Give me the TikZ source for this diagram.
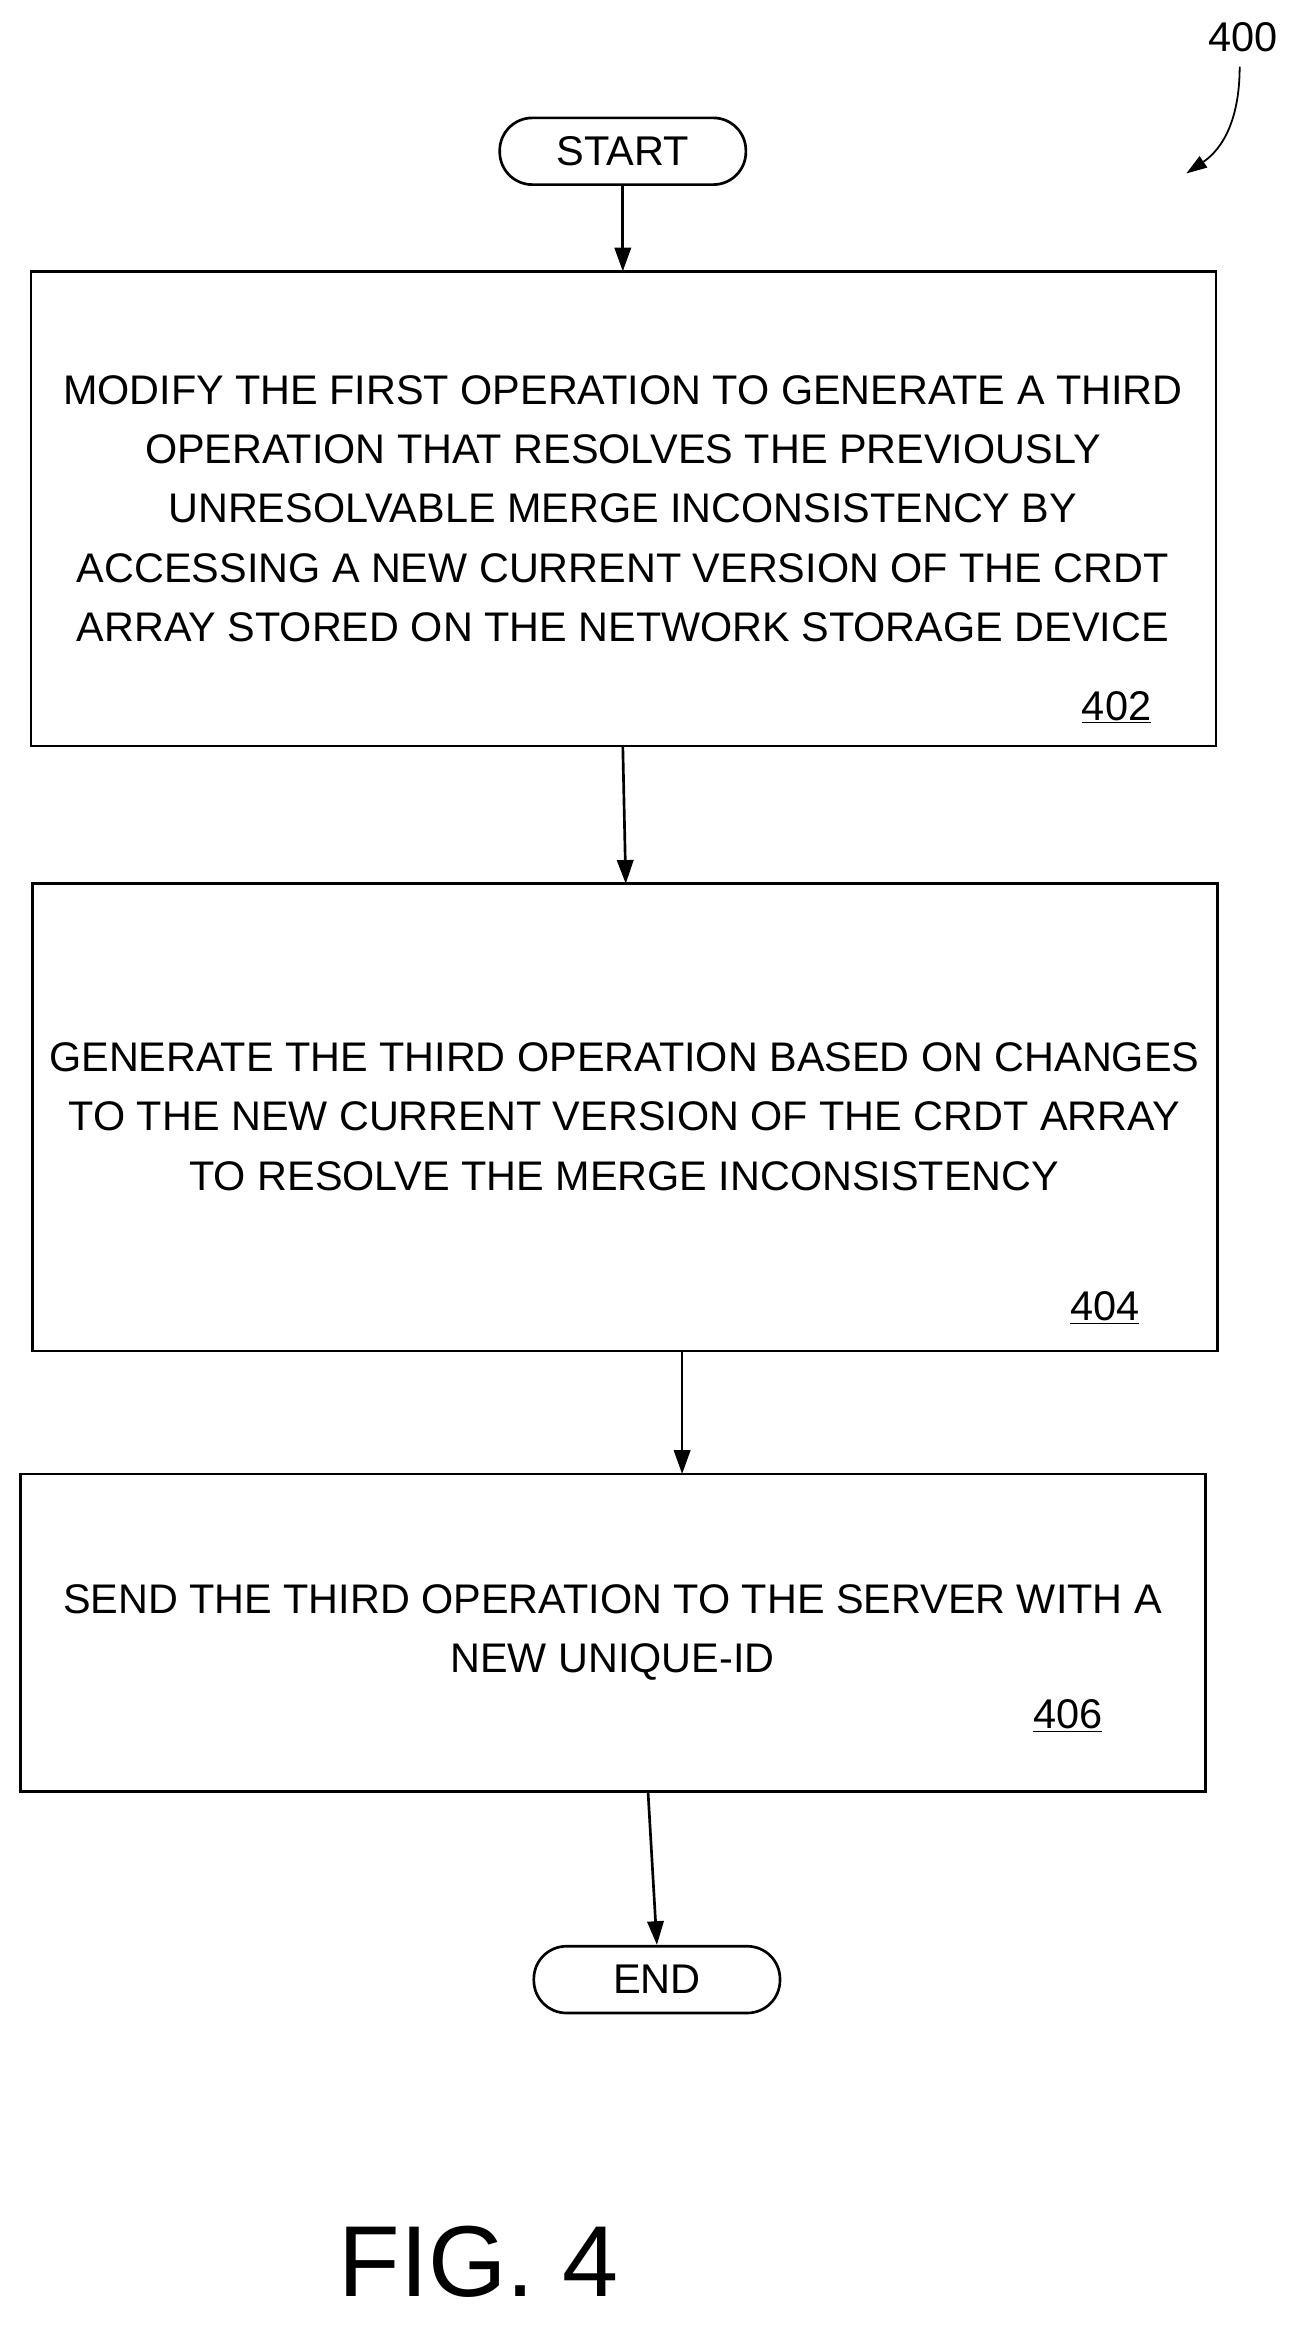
\documentclass[tikz,border=0pt]{standalone}
\usepackage{fontspec}
\setmainfont{Liberation Sans}
\usetikzlibrary{arrows.meta}
\begin{document}
\begin{tikzpicture}[x=1pt,y=-1pt,
  box/.style={draw,line width=1.8pt},
  term/.style={draw,line width=1.8pt,rounded corners=22pt,minimum width=166pt,minimum height=45pt,font=\fontsize{28}{32}\selectfont},
  txt/.style={align=center,font=\fontsize{27.9}{40}\selectfont},
  lbl/.style={font=\fontsize{28}{32}\selectfont},
  arr/.style={line width=1.8pt,-{Triangle[length=16pt,width=11pt]}}]
\useasboundingbox (0,0) rectangle (878,1574);
\node[term] (start) at (420,102) {START};
\draw[box] (21,183) rectangle (820,503);
\coordinate (b1t) at (420,183);
\node[txt] (t1) at (420,343) {MODIFY THE FIRST OPERATION TO GENERATE A THIRD\\OPERATION THAT RESOLVES THE PREVIOUSLY\\UNRESOLVABLE MERGE INCONSISTENCY BY\\ACCESSING A NEW CURRENT VERSION OF THE CRDT\\ARRAY STORED ON THE NETWORK STORAGE DEVICE};
\node[lbl] (l1) at (753,477) {\underline{402}};
\draw[box] (22,596) rectangle (821,911);
\node[txt] (t2) at (421,753) {GENERATE THE THIRD OPERATION BASED ON CHANGES\\TO THE NEW CURRENT VERSION OF THE CRDT ARRAY\\TO RESOLVE THE MERGE INCONSISTENCY};
\node[lbl] (l2) at (745,882) {\underline{404}};
\draw[box] (14,994) rectangle (813,1208);
\node[txt] (t3) at (413,1101) {SEND THE THIRD OPERATION TO THE SERVER WITH A\\NEW UNIQUE-ID};
\node[lbl] (l3) at (720,1157) {\underline{406}};
\node[term] (end) at (443,1335) {END};
\coordinate (a1) at (420,503); \coordinate (a1e) at (422,596);
\coordinate (a2) at (460,911); \coordinate (a2e) at (460,994);
\coordinate (a3) at (437,1208);
\draw[arr] (start.south) -- (b1t);
\draw[arr] (a1) -- (a1e);
\draw[arr] (a2) -- (a2e);
\draw[arr] (a3) -- (end.north);
\node[lbl] (n400) at (838,25) {400};
\coordinate (c400) at (800,117);
\draw[line width=1.2pt,-{Triangle[length=14pt,width=9pt]}] (836,45) .. controls (836,80) and (825,100) .. (c400);
\node[font=\fontsize{68}{70}\selectfont] (fig) at (323,1525) {FIG. 4};
\end{tikzpicture}
\end{document}
